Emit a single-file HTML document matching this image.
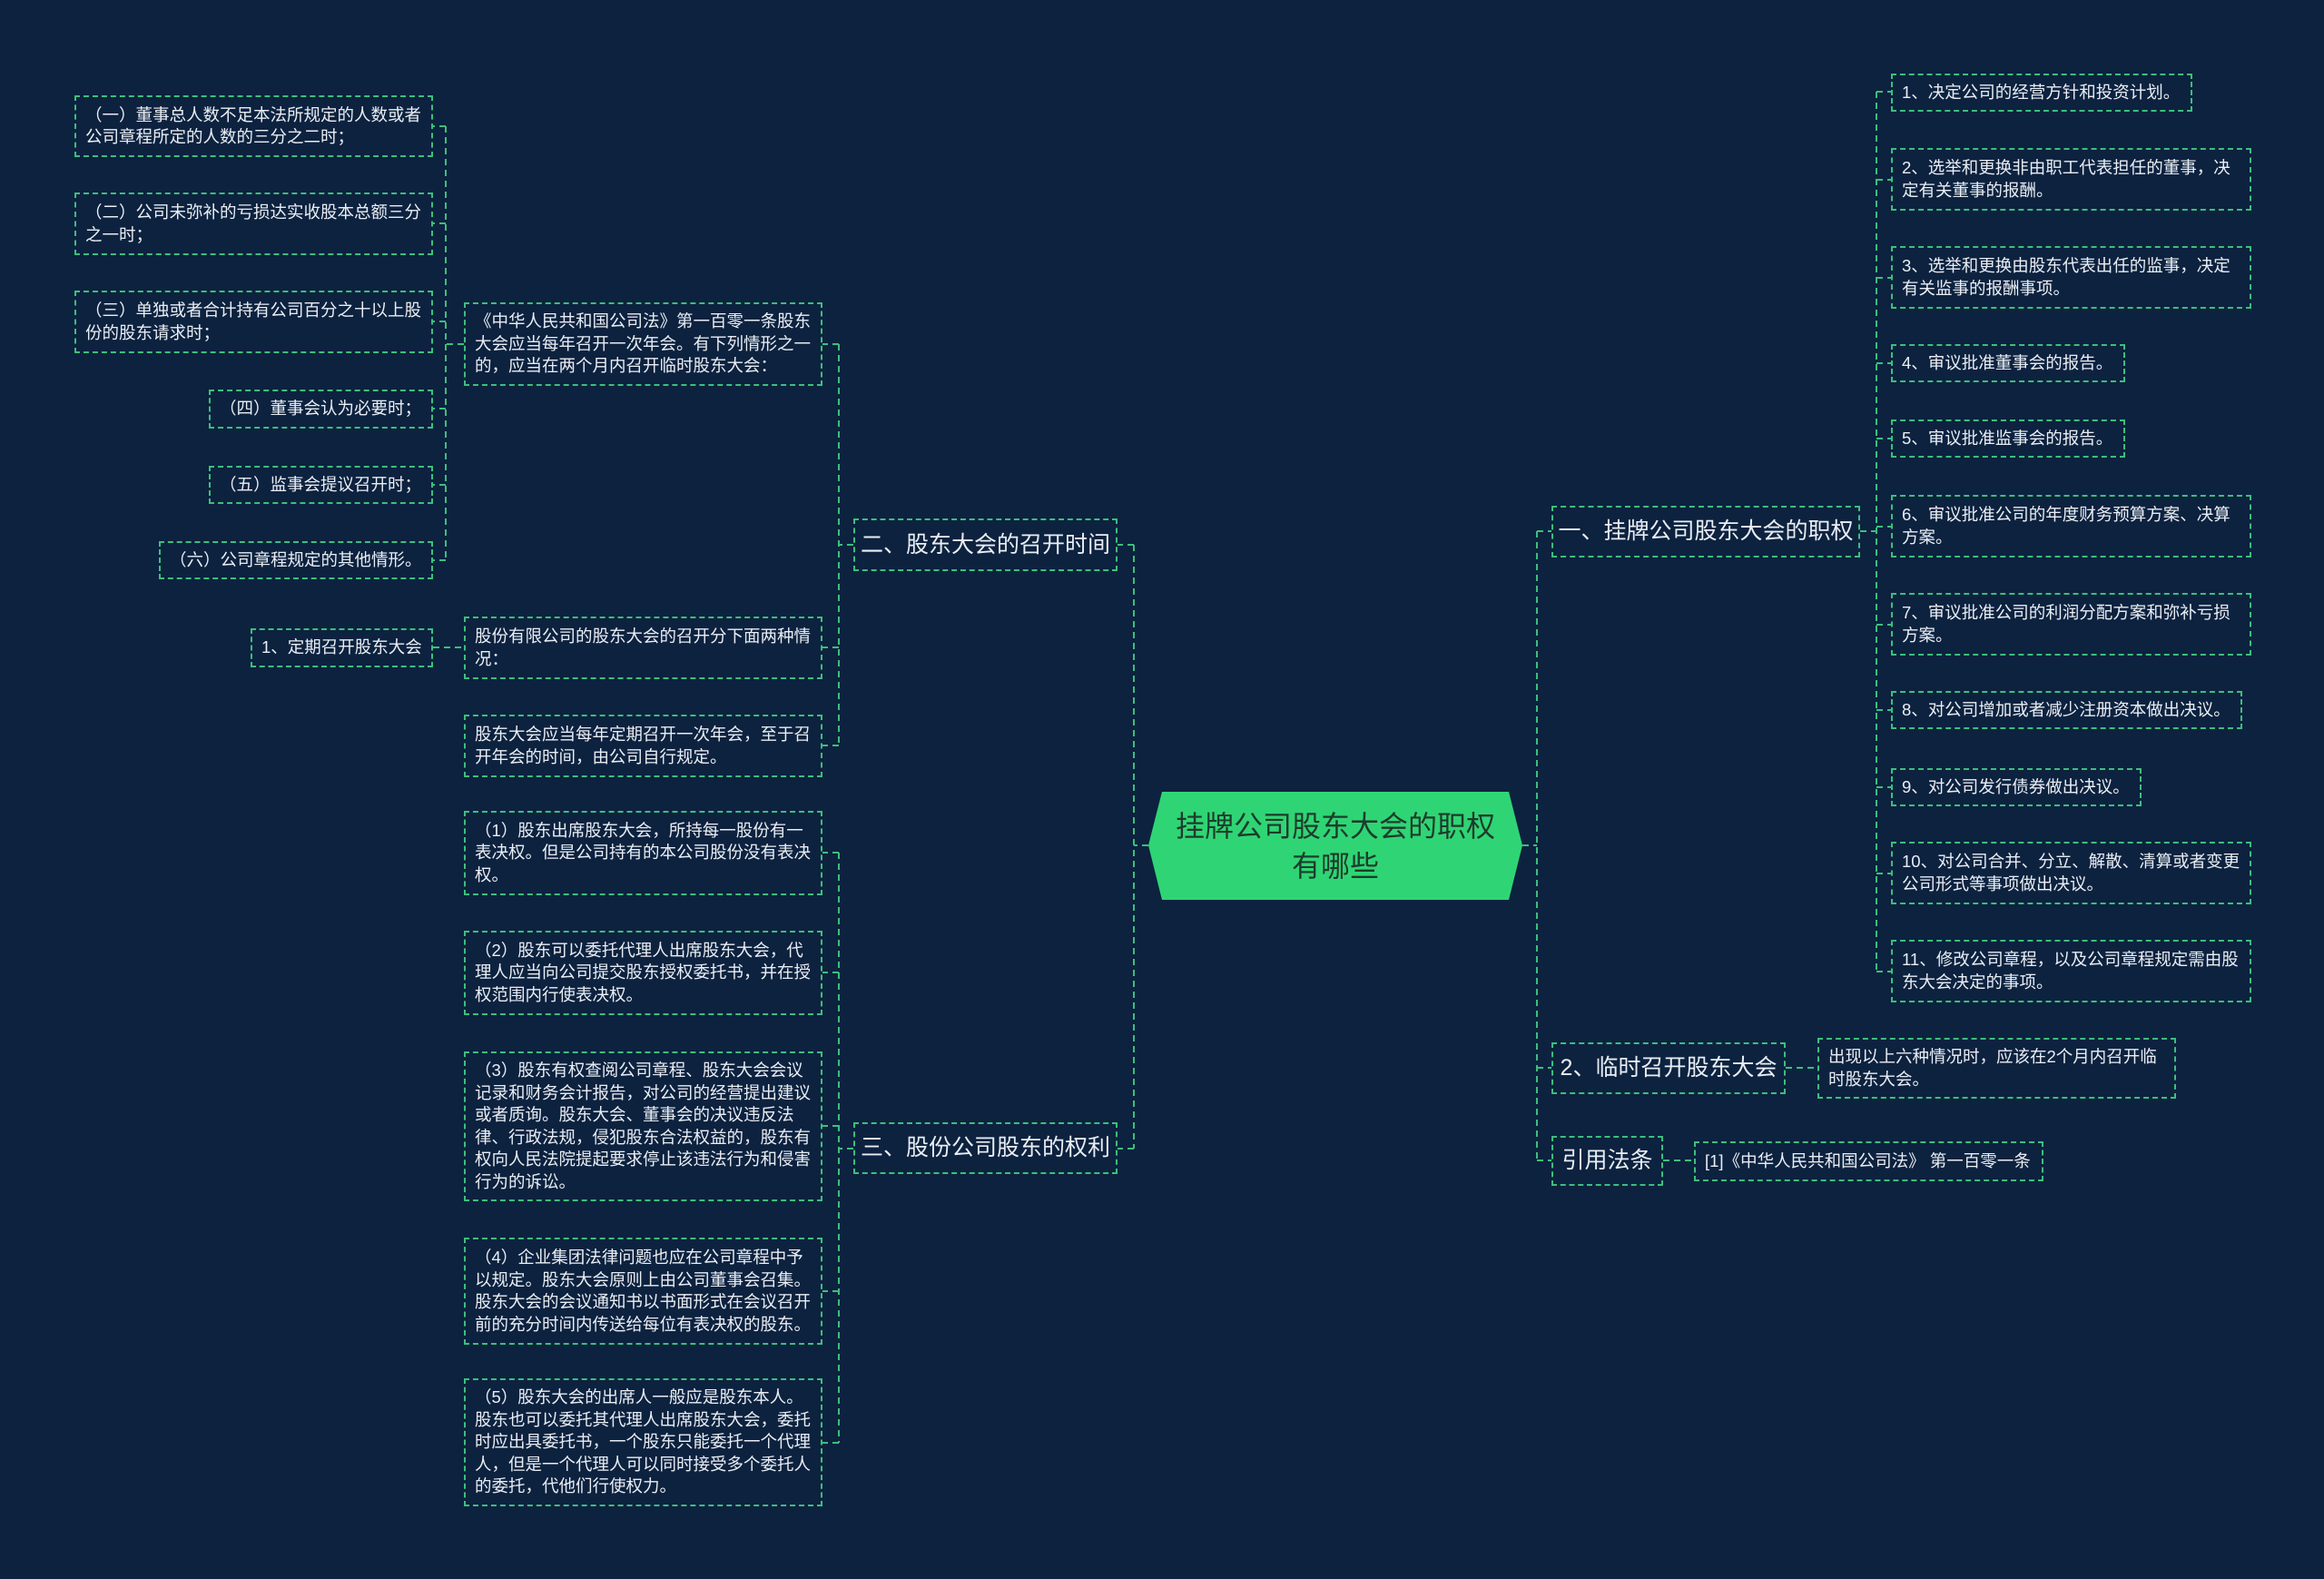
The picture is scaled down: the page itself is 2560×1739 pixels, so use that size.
<!DOCTYPE html>
<html><head><meta charset="utf-8"><style>
html,body{margin:0;padding:0}
body{width:2560px;height:1739px;background:#0d223f;position:relative;overflow:hidden;font-family:"Liberation Sans","Noto Sans CJK SC",sans-serif;color:#e9eef4}
.b{position:absolute;box-sizing:border-box;border:2px dashed #3cbf7c;display:flex;align-items:center;padding:0 10px;font-size:18.5px;line-height:24.5px}
.m{font-size:25px;justify-content:center;padding:0 8px;white-space:nowrap}
svg{position:absolute;left:0;top:0}
</style></head><body>
<svg width="2560" height="1739"><g fill="none" stroke="#3cbf7c" stroke-width="2" stroke-dasharray="7,5">
<path d="M1677 931H1693M1693 585V1278M1693 585H1709M1693 1176H1709M1693 1278H1709"/>
<path d="M2049 585H2067M2067 101V1070M2067 101H2083M2067 198H2083M2067 306H2083M2067 400H2083M2067 483H2083M2067 580H2083M2067 688H2083M2067 782H2083M2067 867H2083M2067 962H2083M2067 1070H2083"/>
<path d="M1967 1176H2002M1832 1278H1866"/>
<path d="M1265 931H1249M1249 600V1265M1249 600H1231M1249 1265H1231"/>
<path d="M940 600H924M924 379V821M924 379H906M924 713H906M924 821H906"/>
<path d="M511 379H491M491 139V617M491 139H477M491 246H477M491 354H477M491 450H477M491 534H477M491 617H477M477 713H511"/>
<path d="M940 1265H924M924 939V1589M924 939H906M924 1071H906M924 1240H906M924 1422H906M924 1589H906"/>
</g>
<polygon points="1280,872 1662,872 1677,931 1662,991 1280,991 1265,931" fill="#2fd574"/>
<text x="1471" y="921" text-anchor="middle" font-size="32" fill="#1d3b2c" font-family="Liberation Sans,Noto Sans CJK SC,sans-serif">挂牌公司股东大会的职权</text>
<text x="1471" y="965" text-anchor="middle" font-size="32" fill="#1d3b2c" font-family="Liberation Sans,Noto Sans CJK SC,sans-serif">有哪些</text>
</svg>

<div class="b m" style="left:1709px;top:557px;width:340px;height:57px">一、挂牌公司股东大会的职权</div>
<div class="b m" style="left:1709px;top:1148px;width:258px;height:57px">2、临时召开股东大会</div>
<div class="b m" style="left:1709px;top:1251px;width:123px;height:55px">引用法条</div>

<div class="b" style="left:2083px;top:81px;width:332px;height:42px">1、决定公司的经营方针和投资计划。</div>
<div class="b" style="left:2083px;top:163px;width:397px;height:69px">2、选举和更换非由职工代表担任的董事，决定有关董事的报酬。</div>
<div class="b" style="left:2083px;top:271px;width:397px;height:69px">3、选举和更换由股东代表出任的监事，决定有关监事的报酬事项。</div>
<div class="b" style="left:2083px;top:379px;width:258px;height:42px">4、审议批准董事会的报告。</div>
<div class="b" style="left:2083px;top:462px;width:258px;height:42px">5、审议批准监事会的报告。</div>
<div class="b" style="left:2083px;top:545px;width:397px;height:69px">6、审议批准公司的年度财务预算方案、决算方案。</div>
<div class="b" style="left:2083px;top:653px;width:397px;height:69px">7、审议批准公司的利润分配方案和弥补亏损方案。</div>
<div class="b" style="left:2083px;top:761px;width:387px;height:42px">8、对公司增加或者减少注册资本做出决议。</div>
<div class="b" style="left:2083px;top:846px;width:276px;height:42px">9、对公司发行债券做出决议。</div>
<div class="b" style="left:2083px;top:927px;width:397px;height:69px">10、对公司合并、分立、解散、清算或者变更公司形式等事项做出决议。</div>
<div class="b" style="left:2083px;top:1035px;width:397px;height:69px">11、修改公司章程，以及公司章程规定需由股东大会决定的事项。</div>
<div class="b" style="left:2002px;top:1143px;width:395px;height:67px">出现以上六种情况时，应该在2个月内召开临时股东大会。</div>
<div class="b" style="left:1866px;top:1257px;width:385px;height:44px">[1]《中华人民共和国公司法》 第一百零一条</div>

<div class="b m" style="left:940px;top:571px;width:291px;height:58px">二、股东大会的召开时间</div>
<div class="b m" style="left:940px;top:1236px;width:291px;height:57px">三、股份公司股东的权利</div>

<div class="b" style="left:511px;top:333px;width:395px;height:92px">《中华人民共和国公司法》第一百零一条股东大会应当每年召开一次年会。有下列情形之一的，应当在两个月内召开临时股东大会：</div>
<div class="b" style="left:511px;top:679px;width:395px;height:69px">股份有限公司的股东大会的召开分下面两种情况：</div>
<div class="b" style="left:511px;top:787px;width:395px;height:69px">股东大会应当每年定期召开一次年会，至于召开年会的时间，由公司自行规定。</div>
<div class="b" style="left:511px;top:893px;width:395px;height:93px">（1）股东出席股东大会，所持每一股份有一表决权。但是公司持有的本公司股份没有表决权。</div>
<div class="b" style="left:511px;top:1025px;width:395px;height:93px">（2）股东可以委托代理人出席股东大会，代理人应当向公司提交股东授权委托书，并在授权范围内行使表决权。</div>
<div class="b" style="left:511px;top:1158px;width:395px;height:165px">（3）股东有权查阅公司章程、股东大会会议记录和财务会计报告，对公司的经营提出建议或者质询。股东大会、董事会的决议违反法律、行政法规，侵犯股东合法权益的，股东有权向人民法院提起要求停止该违法行为和侵害行为的诉讼。</div>
<div class="b" style="left:511px;top:1363px;width:395px;height:118px">（4）企业集团法律问题也应在公司章程中予以规定。股东大会原则上由公司董事会召集。股东大会的会议通知书以书面形式在会议召开前的充分时间内传送给每位有表决权的股东。</div>
<div class="b" style="left:511px;top:1518px;width:395px;height:141px">（5）股东大会的出席人一般应是股东本人。股东也可以委托其代理人出席股东大会，委托时应出具委托书，一个股东只能委托一个代理人，但是一个代理人可以同时接受多个委托人的委托，代他们行使权力。</div>

<div class="b" style="left:82px;top:105px;width:395px;height:68px">（一）董事总人数不足本法所规定的人数或者公司章程所定的人数的三分之二时；</div>
<div class="b" style="left:82px;top:212px;width:395px;height:69px">（二）公司未弥补的亏损达实收股本总额三分之一时；</div>
<div class="b" style="left:82px;top:320px;width:395px;height:69px">（三）单独或者合计持有公司百分之十以上股份的股东请求时；</div>
<div class="b" style="left:230px;top:429px;width:247px;height:43px">（四）董事会认为必要时；</div>
<div class="b" style="left:230px;top:513px;width:247px;height:42px">（五）监事会提议召开时；</div>
<div class="b" style="left:175px;top:596px;width:302px;height:42px">（六）公司章程规定的其他情形。</div>
<div class="b" style="left:276px;top:692px;width:201px;height:43px">1、定期召开股东大会</div>
</body></html>
